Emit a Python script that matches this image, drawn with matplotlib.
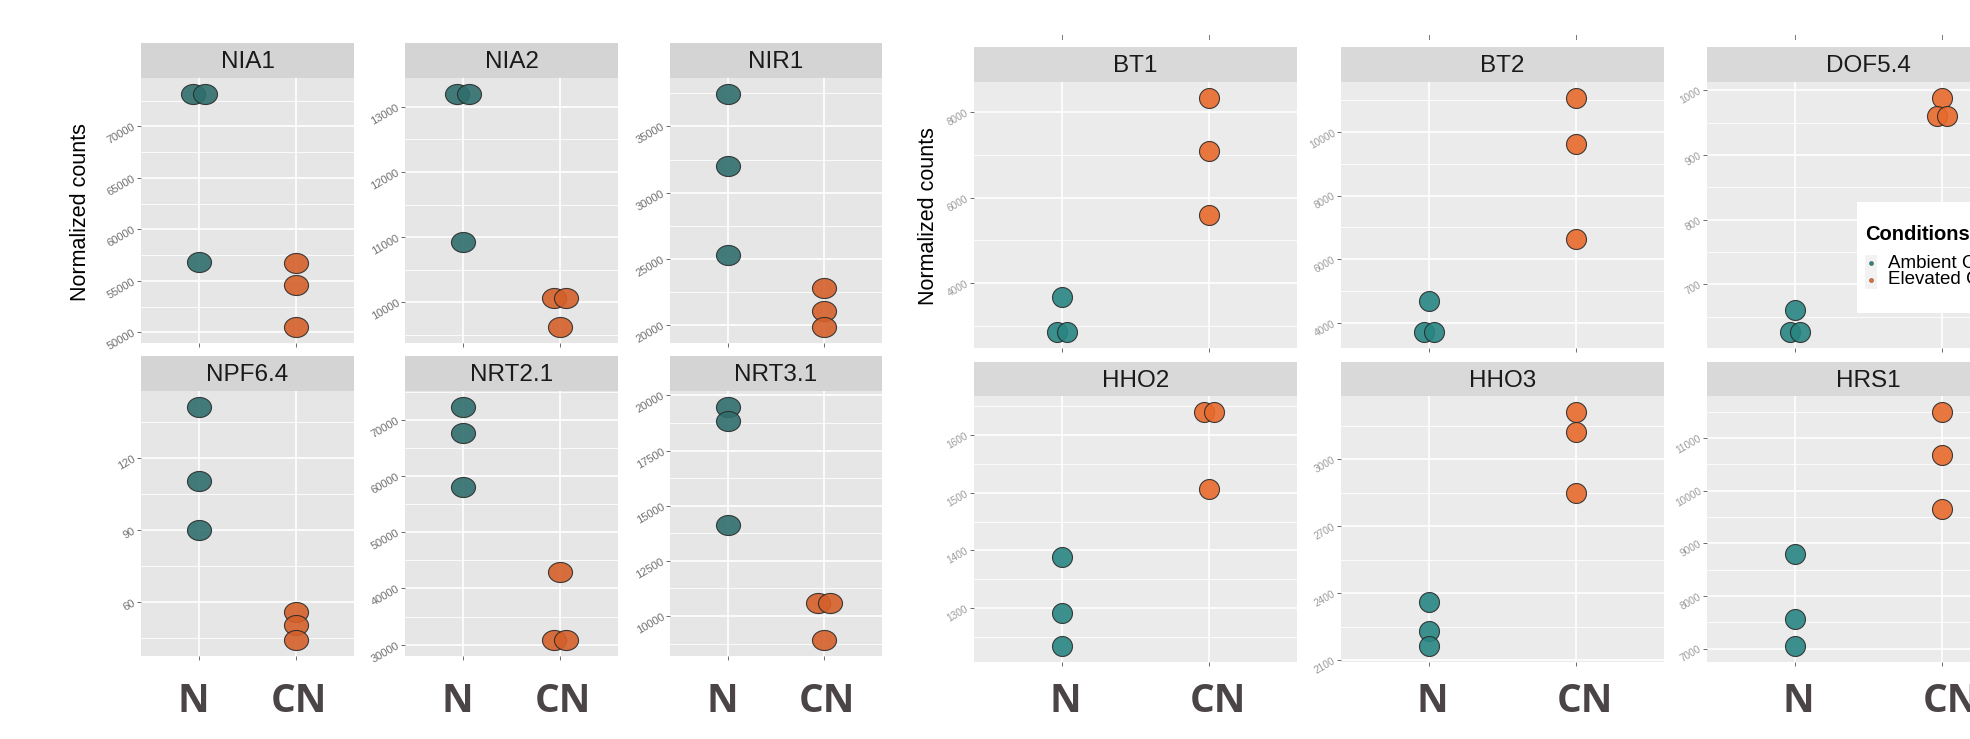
import numpy as np
import matplotlib.pyplot as plt
import matplotlib.transforms as mtransforms
from matplotlib.path import Path
from matplotlib.lines import Line2D
from matplotlib.patches import Rectangle

plt.rcParams['font.family'] = ['Liberation Sans', 'DejaVu Sans']

# ---- data (normalized counts, 3 replicates per condition) ----
conditions = ['N', 'CN']
legend_labels = ['Ambient CO\u2082', 'Elevated CO\u2082']

left_genes = ['NIA1', 'NIA2', 'NIR1', 'NPF6.4', 'NRT2.1', 'NRT3.1']
left_n = [[73150, 73150, 56820], [13200, 13200, 10920], [37450, 32050, 25300],
          [141.3, 110.3, 89.9], [72300, 67700, 58000], [19480, 18820, 14120]]
left_cn = [[56700, 54600, 50500], [10070, 10070, 9620], [22850, 21100, 19870],
           [56.0, 50.3, 44.2], [43000, 30800, 30800], [10600, 10600, 8910]]
left_ticks = [[50000, 55000, 60000, 65000, 70000], [10000, 11000, 12000, 13000],
              [20000, 25000, 30000, 35000], [60, 90, 120],
              [30000, 40000, 50000, 60000, 70000],
              [10000, 12500, 15000, 17500, 20000]]

right_genes = ['BT1', 'BT2', 'DOF5.4', 'HHO2', 'HHO3', 'HRS1']
right_n = [[3670, 2850, 2850], [4690, 3710, 3710], [660, 626, 626],
           [1388, 1291, 1234], [2360, 2232, 2163], [8804, 7571, 7050]]
right_cn = [[8340, 7090, 5600], [11070, 9630, 6630], [988, 960, 960],
            [1640, 1640, 1506], [3212, 3120, 2848], [11494, 10671, 9645]]
right_ticks = [[4000, 6000, 8000], [4000, 6000, 8000, 10000], [700, 800, 900, 1000],
               [1300, 1400, 1500, 1600], [2100, 2400, 2700, 3000],
               [7000, 8000, 9000, 10000, 11000]]

W, H = 1970, 739
fig = plt.figure(figsize=(W / 100, H / 100), dpi=100)
fig.patch.set_facecolor('white')


def px_axes(x0, y0, x1, y1):
    # pixel box (y from top) -> figure axes
    return fig.add_axes([x0 / W, 1 - y1 / H, (x1 - x0) / W, (y1 - y0) / H])


def spread(vals, step):
    # put equal values side by side, like the dodged dots in the original
    offs = np.zeros(len(vals))
    for v in set(vals):
        idx = [i for i, w in enumerate(vals) if w == v]
        for j, i in enumerate(idx):
            offs[i] = (j - (len(idx) - 1) / 2) * step
    return offs


def minor_breaks(ticks, lo, hi):
    step = ticks[1] - ticks[0]
    mids = [t + step / 2 for t in [ticks[0] - step] + list(ticks)]
    return [m for m in mids if lo < m < hi]


def draw_block(genes, nv, cnv, ticks, cols, rows, st):
    axes = []
    for k, gene in enumerate(genes):
        x0, x1 = cols[k % 3]
        s0, y0, y1 = rows[k // 3]
        ax = px_axes(x0, y0, x1, y1)
        sax = px_axes(x0, s0, x1, y0)
        sax.set_facecolor(st['strip'])
        sax.set_xticks([]); sax.set_yticks([])
        for sp in sax.spines.values():
            sp.set_visible(False)
        sax.text(0.5, 0.45, gene, ha='center', va='center', fontsize=st['strip_fs'],
                 color='#1a1a1a', transform=sax.transAxes)

        allv = nv[k] + cnv[k]
        lo, hi = min(allv), max(allv)
        pad = (hi - lo) * 0.068
        ax.set_ylim(lo - pad, hi + pad)
        ax.set_xlim(0.4, 2.6)
        ax.set_facecolor(st['panel'])
        for sp in ax.spines.values():
            sp.set_visible(False)
        ax.set_axisbelow(True)
        ax.set_xticks([1, 2])
        ax.set_xticklabels([])
        ax.set_yticks(ticks[k])
        ax.set_yticklabels([str(t) for t in ticks[k]])
        ax.set_yticks(minor_breaks(ticks[k], lo - pad, hi + pad), minor=True)
        ax.grid(which='major', color='white', lw=1.2)
        ax.grid(which='minor', axis='y', color='white', lw=0.6)
        ax.tick_params(which='minor', length=0)
        ax.tick_params(which='major', length=3, width=0.6, color='#555555',
                       labelsize=st['tick_fs'], labelcolor=st['tick_col'], pad=1.5)
        for lab in ax.get_yticklabels():
            lab.set_rotation(30)
            lab.set_ha('right')
            lab.set_va('center')
            lab.set_rotation_mode('anchor')

        for ci, (vals, col) in enumerate(zip([nv[k], cnv[k]], st['colors'])):
            xs = ci + 1 + spread(vals, st['dodge'])
            ax.scatter(xs, vals, s=st['size'], marker=st['marker'], c=col,
                       edgecolors='#2b2b2b', linewidths=0.8, alpha=0.9, zorder=3)

        if k >= 3:
            tr = mtransforms.blended_transform_factory(ax.transData, fig.transFigure)
            for ci, cond in enumerate(conditions):
                off = mtransforms.ScaledTranslation(st['lab_dx'][ci] / 100, 0,
                                                    fig.dpi_scale_trans)
                fig.text(ci + 1, 1 - 702 / H, cond, transform=tr + off,
                         ha='center', va='center', fontsize=28, fontweight='bold',
                         family=['Open Sans', 'DejaVu Sans'], color='#4a4446')
        axes.append(ax)
    return axes


verts = Path.unit_circle().vertices * np.array([1.2, 1.0])
ellipse = Path(verts, Path.unit_circle().codes)

left_style = dict(strip='#d4d4d4', panel='#e6e6e6', strip_fs=17.5, tick_fs=8,
                  tick_col='#707070', colors=['#2f6e6c', '#d4602a'],
                  marker=ellipse, size=300, dodge=0.12, lab_dx=[-6, 3])
right_style = dict(strip='#d9d9d9', panel='#ebebeb', strip_fs=17.5, tick_fs=7.2,
                   tick_col='#9a9a9a', colors=['#288582', '#e86a2c'],
                   marker='o', size=207, dodge=0.068, lab_dx=[3, 9])

draw_block(left_genes, left_n, left_cn, left_ticks,
           [(141, 354), (405, 618), (670, 882)],
           [(43, 78, 343), (356, 391, 656)], left_style)
raxes = draw_block(right_genes, right_n, right_cn, right_ticks,
                   [(974, 1297), (1341, 1664), (1707, 2030)],
                   [(47, 82, 348), (362, 396, 662)], right_style)

# leftover x ticks of the cropped panels above the right block
for ax in raxes[:3]:
    tr = mtransforms.blended_transform_factory(ax.transData, fig.transFigure)
    for xv in [1, 2]:
        fig.add_artist(Line2D([xv, xv], [1 - 35 / H, 1 - 39 / H], transform=tr,
                              color='#777777', lw=0.7))

fig.text(80 / W, 1 - 212 / H, 'Normalized counts', rotation=90,
         ha='center', va='center', fontsize=15.5)
fig.text(929 / W, 1 - 216 / H, 'Normalized counts', rotation=90,
         ha='center', va='center', fontsize=15.5)

# legend box (cut off by the right edge, as in the original)
fig.add_artist(Rectangle((1857 / W, 1 - 313 / H), 200 / W, 111 / H,
                         transform=fig.transFigure, facecolor='white',
                         edgecolor='none', zorder=5))
fig.text(1865 / W, 1 - 240 / H, 'Conditions', ha='left', va='baseline',
         fontsize=14.5, fontweight='bold', color='black', zorder=6)
for i, (lab, col) in enumerate(zip(legend_labels, right_style['colors'])):
    yc = 263 + 17 * i
    fig.add_artist(Rectangle((1865 / W, 1 - (yc + 8.5) / H), 12 / W, 17 / H,
                             transform=fig.transFigure, facecolor='#f2f2f2',
                             edgecolor='none', zorder=6))
    fig.add_artist(Line2D([1871 / W], [1 - yc / H], transform=fig.transFigure,
                          marker='o', ls='', markersize=3, markerfacecolor=col,
                          markeredgecolor='#555555', markeredgewidth=0.3, zorder=7))
    fig.text(1888 / W, 1 - yc / H, lab, ha='left', va='center', fontsize=13.5,
             color='black', zorder=7)

fig.savefig('out.png', dpi=100)
